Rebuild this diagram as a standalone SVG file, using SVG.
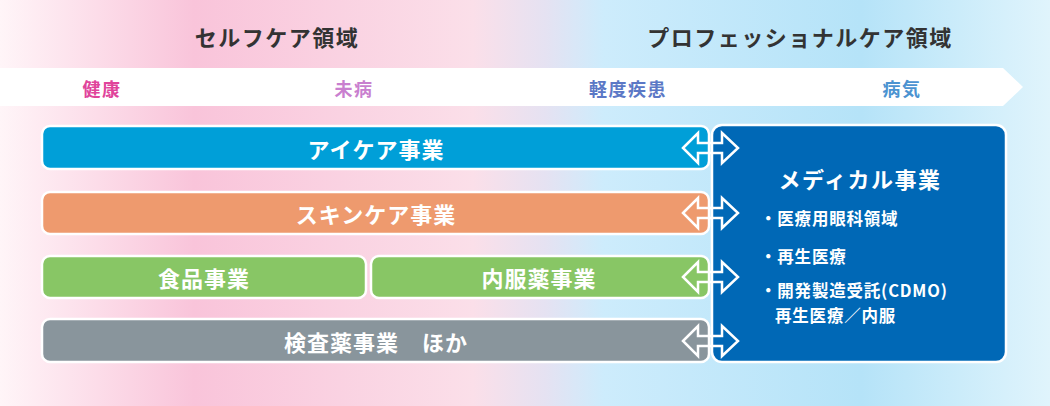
<svg xmlns="http://www.w3.org/2000/svg" width="1050" height="406" viewBox="0 0 1050 406">
  <defs>
    <linearGradient id="bg" x1="0" y1="0" x2="1" y2="0">
      <stop offset="0" stop-color="#fff5f8"/>
      <stop offset="0.185" stop-color="#f9c4da"/>
      <stop offset="0.45" stop-color="#fbdfe9"/>
      <stop offset="0.52" stop-color="#e5e2f2"/>
      <stop offset="0.575" stop-color="#cdecfc"/>
      <stop offset="0.82" stop-color="#b5e3f8"/>
      <stop offset="1" stop-color="#e0f4fc"/>
    </linearGradient>
  </defs>
  <style>
    text { font-family: "Noto Sans CJK JP", "Noto Sans", sans-serif; font-weight: bold; dominant-baseline: central; }
    .head { font-size: 22px; fill: #333333; letter-spacing: 1.5px; text-anchor: middle; }
    .band { font-size: 18px; letter-spacing: 1.5px; text-anchor: middle; }
    .box { stroke: #ffffff; stroke-width: 2.5; }
    .lbl { font-size: 22px; fill: #ffffff; letter-spacing: 1px; text-anchor: middle; }
    .med { font-size: 22px; fill: #ffffff; letter-spacing: 1.5px; text-anchor: middle; }
    .bul { font-size: 16.5px; fill: #ffffff; letter-spacing: 0.8px; }
    .arr { fill: none; stroke: #ffffff; stroke-width: 2.5; stroke-linejoin: miter; }
  </style>
  <rect x="0" y="0" width="1050" height="406" fill="url(#bg)"/>

  <g id="headings">
    <text class="head" x="277" y="36">セルフケア領域</text>
    <text class="head" x="800" y="36">プロフェッショナルケア領域</text>
  </g>

  <g id="scale-band">
    <polygon points="0,68 1003,68 1023,87 1003,106 0,106" fill="#ffffff"/>
    <text class="band" x="102" y="88" fill="#e0449b">健康</text>
    <text class="band" x="354" y="88" fill="#c97fcf">未病</text>
    <text class="band" x="628" y="88" fill="#5b78c6">軽度疾患</text>
    <text class="band" x="902" y="88" fill="#4b93d1">病気</text>
  </g>

  <g id="eyecare">
    <rect class="box" x="42" y="126" width="667" height="43" rx="8" fill="#009fd8"/>
    <text class="lbl" x="376" y="148">アイケア事業</text>
  </g>
  <g id="skincare">
    <rect class="box" x="42" y="192" width="667" height="42" rx="8" fill="#ee9a6e"/>
    <text class="lbl" x="376" y="213">スキンケア事業</text>
  </g>
  <g id="food">
    <rect class="box" x="42" y="256" width="324" height="42" rx="8" fill="#88c665"/>
    <text class="lbl" x="204" y="277">食品事業</text>
  </g>
  <g id="oral">
    <rect class="box" x="371" y="256" width="338" height="42" rx="8" fill="#88c665"/>
    <text class="lbl" x="539" y="277">内服薬事業</text>
  </g>
  <g id="diagnostics">
    <rect class="box" x="42" y="319" width="667" height="43" rx="8" fill="#89959c"/>
    <text class="lbl" x="376" y="341">検査薬事業　ほか</text>
  </g>

  <g id="medical">
    <rect class="box" x="712" y="125" width="294" height="237" rx="10" fill="#0068b6"/>
    <text class="med" x="860" y="178">メディカル事業</text>
    <text class="bul" x="760" y="218">・医療用眼科領域</text>
    <text class="bul" x="760" y="256">・再生医療</text>
    <text class="bul" x="760" y="290">・開発製造受託(CDMO)</text>
    <text class="bul" x="775" y="315">再生医療／内服</text>
  </g>

  <g id="connectors">
    <polygon class="arr" points="683,148 698,133 698,143 722,143 722,133 738,148 722,163 722,153 698,153 698,163"/>
    <polygon class="arr" points="683,213 698,198 698,208 722,208 722,198 738,213 722,228 722,218 698,218 698,228"/>
    <polygon class="arr" points="683,277 698,262 698,272 722,272 722,262 738,277 722,292 722,282 698,282 698,292"/>
    <polygon class="arr" points="683,341 698,326 698,336 722,336 722,326 738,341 722,356 722,346 698,346 698,356"/>
  </g>
</svg>
